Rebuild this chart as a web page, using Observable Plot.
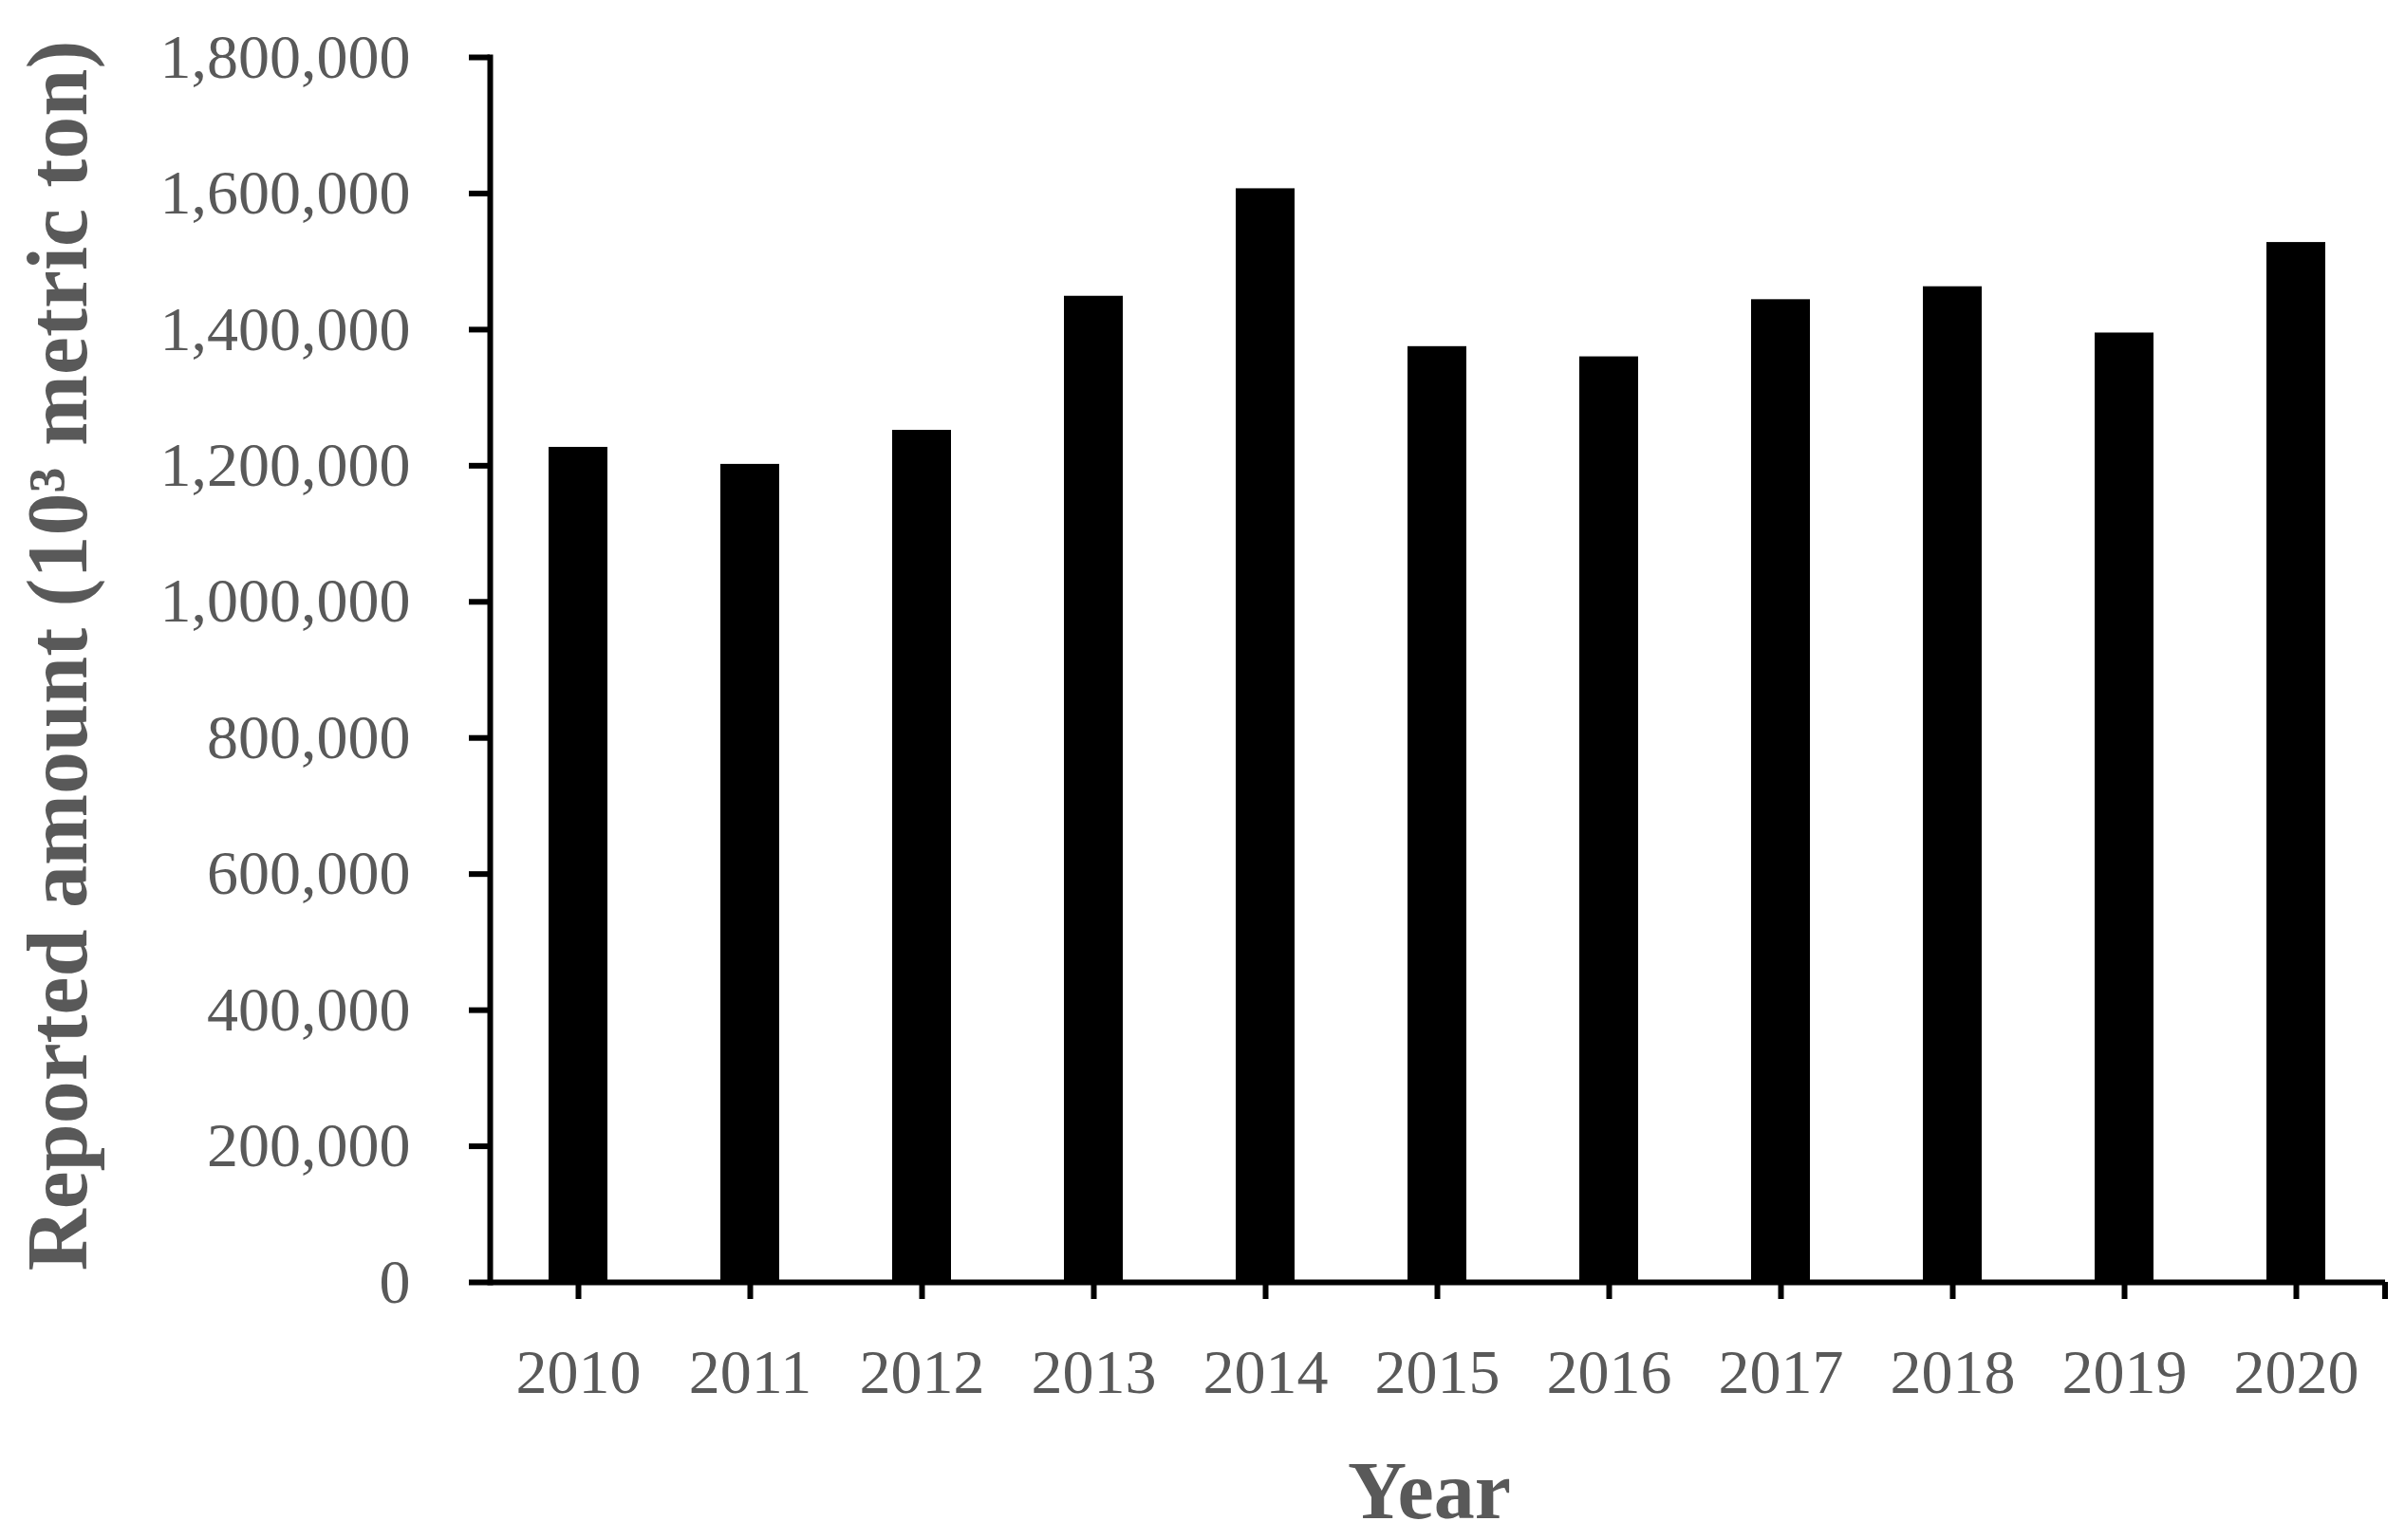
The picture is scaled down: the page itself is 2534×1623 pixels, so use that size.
<!DOCTYPE html>
<html>
<head>
<meta charset="utf-8">
<script src="https://cdn.jsdelivr.net/npm/d3@7"></script>
<script src="https://cdn.jsdelivr.net/npm/@observablehq/plot@0.6"></script>
<style>
  html, body { margin: 0; padding: 0; background: #ffffff; }
</style>
</head>
<body>
<div id="chart"></div>
<script>
const years = ["2010", "2011", "2012", "2013", "2014", "2015", "2016", "2017", "2018", "2019", "2020"];
const amounts = [1227000, 1202000, 1252000, 1449000, 1607000, 1375000, 1360000, 1444000, 1463000, 1395000, 1528000];
const yTicks = [0, 200000, 400000, 600000, 800000, 1000000, 1200000, 1400000, 1600000, 1800000];
const xTitle = "Year";
const yTitle = "Reported amount (10³ metric ton)";

const data = years.map((y, i) => ({year: y, amount: amounts[i]}));
const grey = "#595959";

const chart = Plot.plot({
  width: 2534,
  height: 1623,
  marginLeft: 516,
  marginRight: 21,
  marginTop: 60,
  marginBottom: 272,
  style: {fontFamily: "'Liberation Serif', 'Times New Roman', serif", fontSize: "66px", background: "#ffffff", color: "#000"},
  x: {domain: years, paddingInner: 0.655, paddingOuter: 0.3275, axis: null},
  y: {domain: [0, 1800000], axis: null},
  marks: [
    Plot.barY(data, {x: "year", y: "amount", fill: "#000000"}),
    Plot.axisY({ticks: yTicks, tickFormat: d3.format(","), tickSize: 22, tickPadding: 62, stroke: "#000", strokeWidth: 6, fill: grey, label: null, fontSize: 66}),
    Plot.axisX({tickSize: 18, tickPadding: 52, stroke: "#000", strokeWidth: 6, fill: grey, label: null, fontSize: 66}),
    Plot.frame({anchor: "left", stroke: "#000", strokeWidth: 6}),
    Plot.ruleY([0], {stroke: "#000", strokeWidth: 6}),
    Plot.text([xTitle], {frameAnchor: "bottom", dx: -9, dy: 221, fontWeight: "bold", fontSize: 86, fill: grey, textAnchor: "middle", lineAnchor: "middle"}),
    Plot.text([yTitle], {frameAnchor: "left", dx: -454, dy: -15, rotate: -90, fontWeight: "bold", fontSize: 90, fill: grey, textAnchor: "middle", lineAnchor: "middle"})
  ]
});

// right-end tick at the end of the category axis (from the scale's range)
const xs = chart.scale("x");
const ys = chart.scale("y");
const xEnd = xs.range[1];
const y0 = ys.apply(0);
d3.select(chart).append("line")
  .attr("x1", xEnd).attr("x2", xEnd)
  .attr("y1", y0).attr("y2", y0 + 18)
  .attr("stroke", "#000").attr("stroke-width", 6);

document.getElementById("chart").appendChild(chart);
</script>
</body>
</html>
